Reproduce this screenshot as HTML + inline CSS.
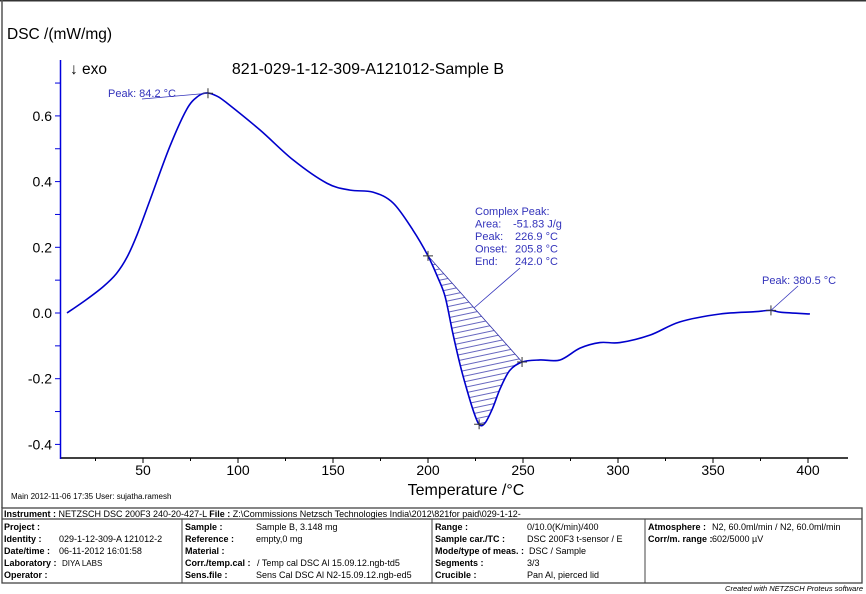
<!DOCTYPE html>
<html><head><meta charset="utf-8"><style>
body{margin:0;background:#fff;}
svg{display:block;font-family:"Liberation Sans",Arial,sans-serif;}
</style></head><body>
<svg id="chart" width="866" height="594" viewBox="0 0 866 594">
<defs>
<pattern id="hatch" patternUnits="userSpaceOnUse" width="20" height="5.5" patternTransform="rotate(-12)">
<line x1="0" y1="2.5" x2="20" y2="2.5" stroke="#3333aa" stroke-width="0.8"/>
</pattern>
</defs>
<line x1="0" y1="0.5" x2="866" y2="0.5" stroke="#333" stroke-width="2"/>
<line x1="2" y1="0" x2="2" y2="508" stroke="#555" stroke-width="1.5"/>
<text x="7" y="39" font-size="15.5">DSC /(mW/mg)</text>
<text x="70" y="74" font-size="15.5">↓ exo</text>
<text x="368" y="74" font-size="16" text-anchor="middle">821-029-1-12-309-A121012-Sample B</text>
<g id="axes"></g>
<g id="plot"></g>
<text x="466" y="495" font-size="16" text-anchor="middle">Temperature /°C</text>
<text x="11" y="499" font-size="8">Main   2012-11-06 17:35   User: sujatha.ramesh</text>
<g font-size="9" fill="#000">
<rect x="2" y="508" width="860" height="75" fill="none" stroke="#444" stroke-width="1.3"/>
<line x1="2" y1="519" x2="862" y2="519" stroke="#444" stroke-width="1.3"/>
<line x1="182" y1="519" x2="182" y2="583" stroke="#444"/>
<line x1="432" y1="519" x2="432" y2="583" stroke="#444"/>
<line x1="645" y1="519" x2="645" y2="583" stroke="#444"/>
<text x="4" y="517"><tspan font-weight="bold">Instrument :</tspan> NETZSCH DSC 200F3 240-20-427-L  <tspan font-weight="bold">File :</tspan>  Z:\Commissions Netzsch Technologies India\2012\821for paid\029-1-12-</text>
<text x="4" y="530" font-weight="bold">Project :</text>
<text x="4" y="542" font-weight="bold">Identity :</text><text x="59" y="542">029-1-12-309-A 121012-2</text>
<text x="4" y="554" font-weight="bold">Date/time :</text><text x="59" y="554">06-11-2012 16:01:58</text>
<text x="4" y="566" font-weight="bold">Laboratory :</text><text x="62" y="566" font-size="8">DIYA LABS</text>
<text x="4" y="578" font-weight="bold">Operator :</text>
<text x="185" y="530" font-weight="bold">Sample :</text><text x="256" y="530">Sample B, 3.148 mg</text>
<text x="185" y="542" font-weight="bold">Reference :</text><text x="256" y="542">empty,0 mg</text>
<text x="185" y="554" font-weight="bold">Material :</text>
<text x="185" y="566" font-weight="bold">Corr./temp.cal :</text><text x="257" y="566"> / Temp cal DSC Al 15.09.12.ngb-td5</text>
<text x="185" y="578" font-weight="bold">Sens.file :</text><text x="256" y="578">Sens Cal DSC Al N2-15.09.12.ngb-ed5</text>
<text x="435" y="530" font-weight="bold">Range :</text><text x="527" y="530">0/10.0(K/min)/400</text>
<text x="435" y="542" font-weight="bold">Sample car./TC :</text><text x="527" y="542">DSC 200F3 t-sensor / E</text>
<text x="435" y="554" font-weight="bold">Mode/type of meas. :</text><text x="529" y="554">DSC / Sample</text>
<text x="435" y="566" font-weight="bold">Segments :</text><text x="527" y="566">3/3</text>
<text x="435" y="578" font-weight="bold">Crucible :</text><text x="527" y="578">Pan Al, pierced lid</text>
<text x="648" y="530" font-weight="bold">Atmosphere :</text><text x="712" y="530">N2, 60.0ml/min / N2, 60.0ml/min</text>
<text x="648" y="542" font-weight="bold">Corr/m. range :</text><text x="712" y="542">602/5000 µV</text>
</g>
<text x="863" y="591" font-size="7.5" font-style="italic" text-anchor="end">Created with NETZSCH Proteus software</text>
</svg>
<script>
const temps=[10,20,29,36,41.6,47,53.7,64,73,79,83.7,89,94,111.6,129,146.8,159,171,181.6,192,200,205,209,213,217,220.5,224,227,230,234,238,243,249.5,259,269.5,280,290.5,301,317,332.6,353.7,372,380.5,386,401];
const dsc=[0.0,0.04,0.08,0.12,0.17,0.24,0.344,0.505,0.62,0.66,0.67,0.66,0.64,0.557,0.466,0.395,0.374,0.368,0.335,0.253,0.174,0.11,0.05,-0.06,-0.16,-0.234,-0.3,-0.34,-0.335,-0.29,-0.23,-0.175,-0.149,-0.143,-0.143,-0.107,-0.09,-0.09,-0.067,-0.027,-0.003,0.004,0.008,0.002,-0.003];
const xTicks=[50,100,150,200,250,300,350,400];
const yTicks=[-0.4,-0.2,0.0,0.2,0.4,0.6];
const peakTemps=[84.2,226.9,380.5];
const intStart=200, intEnd=249.5;
const NS='http://www.w3.org/2000/svg';
const X=t=>143+(t-50)*1.9;
const Y=v=>313-v*328.5;
function mk(tag,attrs,parent){const e=document.createElementNS(NS,tag);for(const k in attrs)e.setAttribute(k,attrs[k]);parent.appendChild(e);return e;}
const axes=document.getElementById('axes'), plot=document.getElementById('plot');
let e=mk('line',{x1:60,y1:458,x2:848,y2:458,stroke:'#000','stroke-width':1.5},axes);


e=mk('line',{x1:60.5,y1:60,x2:60.5,y2:459,stroke:'#0000dd','stroke-width':1.5},axes);


for(let t=25;t<=425;t+=25){const x=X(t);if(x<60||x>848)continue;mk('line',{x1:x,y1:458,x2:x,y2:t%50===0?463:461,stroke:'#000'},axes);}
xTicks.forEach(t=>{const l=mk('text',{x:X(t),y:475,'font-size':14,'text-anchor':'middle'},axes);l.textContent=String(t);

});
for(let v=-0.4;v<=0.75;v+=0.1){const y=Y(v);mk('line',{x1:55,y1:y,x2:60,y2:y,stroke:'#0000dd'},axes);}
yTicks.forEach(v=>{const l=mk('text',{x:52,y:Y(v)+5,'font-size':14,'text-anchor':'end'},axes);l.textContent=v.toFixed(1);

});
function interp(t){for(let i=0;i<temps.length-1;i++){if(t>=temps[i]&&t<=temps[i+1]){const f=(t-temps[i])/(temps[i+1]-temps[i]);return dsc[i]+f*(dsc[i+1]-dsc[i]);}}return dsc[dsc.length-1];}
function pathFrom(pts){let d='M'+pts[0][0]+','+pts[0][1];for(let i=0;i<pts.length-1;i++){const p0=pts[Math.max(0,i-1)],p1=pts[i],p2=pts[i+1],p3=pts[Math.min(pts.length-1,i+2)];d+=' C'+(p1[0]+(p2[0]-p0[0])/6)+','+(p1[1]+(p2[1]-p0[1])/6)+' '+(p2[0]-(p3[0]-p1[0])/6)+','+(p2[1]-(p3[1]-p1[1])/6)+' '+p2[0]+','+p2[1];}return d;}
const pts=temps.map((t,i)=>[X(t),Y(dsc[i])]);
const sub=[];temps.forEach((t,i)=>{if(t>=intStart&&t<=intEnd)sub.push([X(t),Y(dsc[i])]);});
e=mk('path',{d:pathFrom(sub)+' Z',fill:'url(#hatch)',stroke:'#3333aa','stroke-width':0.8},plot);


e=mk('path',{d:pathFrom(pts),fill:'none',stroke:'#0000cc','stroke-width':1.6},plot);


function cross(t,v,name){const x=X(t),y=Y(v);const g=mk('path',{d:`M${x-5},${y}H${x+5}M${x},${y-5}V${y+5}`,stroke:'#333','stroke-width':1},plot);

}
cross(peakTemps[0],interp(peakTemps[0]),'peak-marker-84');
cross(intStart,interp(intStart),'onset-marker');
cross(intEnd,interp(intEnd),'end-marker');
cross(peakTemps[1],interp(peakTemps[1]),'peak-marker-227');
cross(peakTemps[2],interp(peakTemps[2]),'peak-marker-380');
const lab=(x,y,s,name)=>{const t=mk('text',{x:x,y:y,'font-size':11,fill:'#3333bb'},plot);t.textContent=s;

return t;};
lab(108,97,'Peak: 84.2 °C','peak-label-84');
mk('line',{x1:142,y1:99,x2:X(peakTemps[0]),y2:Y(interp(peakTemps[0])),stroke:'#3333bb','stroke-width':0.8},plot);
lab(762,284,'Peak: 380.5 °C','peak-label-380');
mk('line',{x1:X(peakTemps[2]),y1:Y(interp(peakTemps[2])),x2:798,y2:286,stroke:'#3333bb','stroke-width':0.8},plot);
const cpKeys=['Area:','Peak:','Onset:','End:'];
const cpVals=['-51.83 J/g','226.9 °C','205.8 °C','242.0 °C'];
lab(475,215,'Complex Peak:','complex-peak-title');
cpKeys.forEach((k,i)=>{lab(475,227.5+i*12.5,k,'complex-peak-key');lab(i===0?513:515,227.5+i*12.5,cpVals[i],'complex-peak-value');});
mk('line',{x1:474,y1:308,x2:520,y2:268,stroke:'#3333bb','stroke-width':0.8},plot);
</script>
</body></html>
